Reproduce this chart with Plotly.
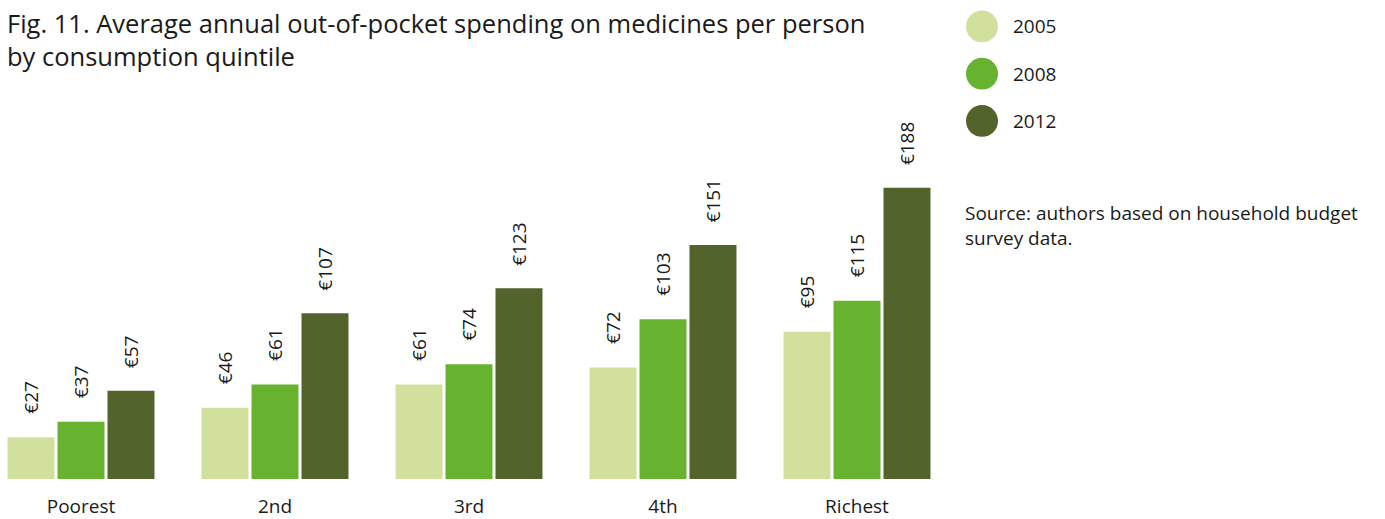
import plotly.graph_objects as go

categories = ["Poorest", "2nd", "3rd", "4th", "Richest"]
years = ["2005", "2008", "2012"]
values_2005 = [27, 46, 61, 72, 95]
values_2008 = [37, 61, 74, 103, 115]
values_2012 = [57, 107, 123, 151, 188]
colors = ["#D1E19D", "#67B32F", "#52642B"]
title_text = "Fig. 11. Average annual out-of-pocket spending on medicines per person<br>by consumption quintile"
source_text = "Source: authors based on household budget<br>survey data."

series = [values_2005, values_2008, values_2012]

W, H = 1385, 519
ML, MR, MT, MB = 0, 445, 100, 38
FONT = "Open Sans"
TXT = "#1a1a1a"

bargap = 0.227
bargroupgap = 0.06

fig = go.Figure()
for yr, vals, col in zip(years, series, colors):
    fig.add_trace(go.Bar(x=categories, y=vals, name=yr, marker=dict(color=col, line=dict(width=0)),
                         showlegend=False, hoverinfo="x+y"))

annotations = []
n = len(series)
sub = (1 - bargap) / n
for i, vals in enumerate(series):
    off = (i - (n - 1) / 2) * sub
    for j, v in enumerate(vals):
        annotations.append(dict(x=j + off, y=v, xref="x", yref="y", text=f"€{v}", textangle=-90,
                                showarrow=False, xanchor="center", yanchor="bottom", yshift=21,
                                font=dict(family=FONT, size=19, color=TXT)))

plot_h = H - MT - MB
plot_w = W - ML - MR

def px_x(px):
    return (px - ML) / plot_w

def px_y(py):
    return (H - MB - py) / plot_h

annotations.append(dict(x=px_x(5), y=px_y(39), xref="paper", yref="paper", text=title_text,
                        showarrow=False, xanchor="left", yanchor="middle", align="left",
                        font=dict(family=FONT, size=25.5, color=TXT)))
annotations.append(dict(x=px_x(963), y=px_y(199), xref="paper", yref="paper", text=source_text, showarrow=False,
                        xanchor="left", yanchor="top", align="left",
                        font=dict(family=FONT, size=19, color=TXT)))

shapes = []
for k, (yr, col) in enumerate(zip(years, colors)):
    cy = 26 + k * 47.5
    shapes.append(dict(type="circle", xref="paper", yref="paper",
                       x0=px_x(966), x1=px_x(998), y0=px_y(cy + 16), y1=px_y(cy - 16),
                       fillcolor=col, line=dict(width=0)))
    annotations.append(dict(x=px_x(1011), y=px_y(cy), xref="paper", yref="paper", text=yr, showarrow=False,
                            xanchor="left", yanchor="middle",
                            font=dict(family=FONT, size=19, color=TXT)))

ymax = plot_h / 1.558
x0 = -81 / 194
x1 = x0 + plot_w / 194

fig.update_layout(
    width=W, height=H,
    margin=dict(l=ML, r=MR, t=MT, b=MB),
    paper_bgcolor="white", plot_bgcolor="white",
    barmode="group", bargap=bargap, bargroupgap=bargroupgap,
    xaxis=dict(range=[x0, x1], showgrid=False, zeroline=False, showline=False, ticks="",
               tickfont=dict(family=FONT, size=19, color=TXT), ticklabelstandoff=14, fixedrange=True),
    yaxis=dict(range=[0, ymax], visible=False, fixedrange=True),
    annotations=annotations, shapes=shapes,
    showlegend=False,
)

fig.write_html("out.html", config={"displayModeBar": False},
               post_script="document.body.style.margin='0';document.body.style.overflow='hidden';")
